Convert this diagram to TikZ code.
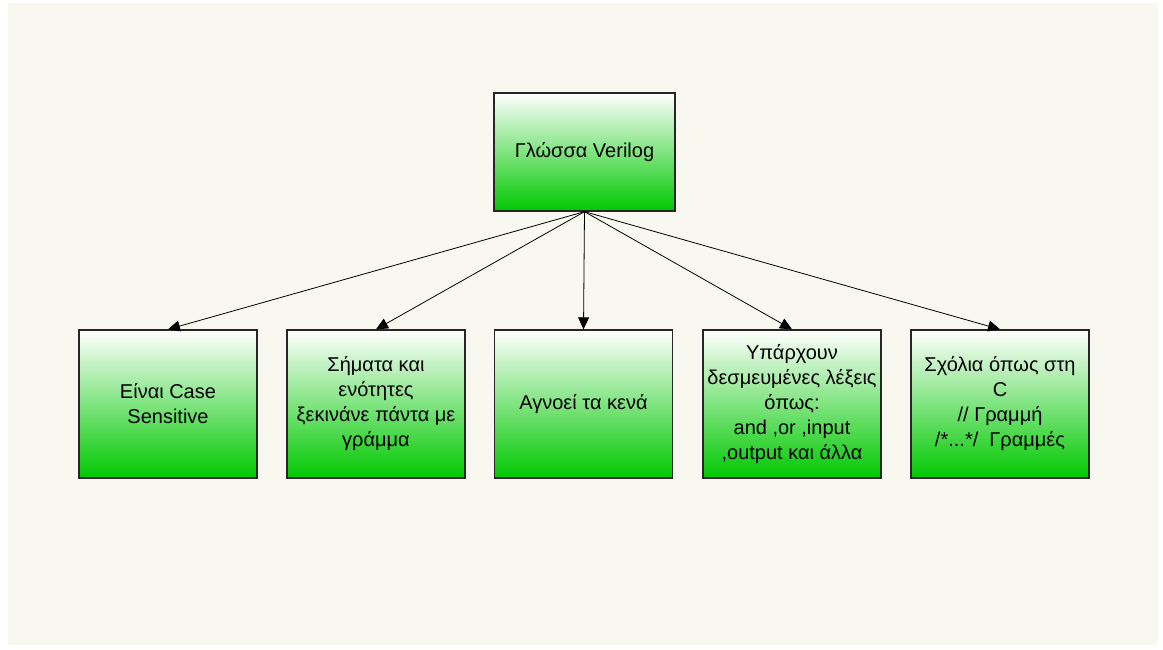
\documentclass[tikz,border=0pt]{standalone}
\usepackage{fontspec}
\setmainfont{Liberation Sans}
\usetikzlibrary{arrows.meta}
\definecolor{boxgreen}{RGB}{0,200,0}
\definecolor{paper}{RGB}{248,247,240}
\begin{document}
\begin{tikzpicture}[x=1pt,y=-1pt]
	\tikzstyle{gbox}=[draw=black!85,line width=1.3pt,top color=white,bottom color=boxgreen,align=center,inner sep=0pt,font=\fontsize{20}{25}\selectfont]
	\tikzstyle{leaf}=[gbox,minimum width=178pt,minimum height=148pt]
	\tikzstyle{myarrow}=[line width=0.8pt,-{Triangle[length=12pt,width=11pt]}]

	\fill[white] (0,0) rectangle (1163,649);
	\fill[paper] (8,3) rectangle (1158,645);

	\node[gbox,minimum width=181pt,minimum height=118pt] (root) at (584.5,152) {Γλώσσα Verilog};

	\node[leaf] (b1) at (168,404) {Είναι Case\\Sensitive};
	\node[leaf] (b2) at (376,404) {Σήματα και\\ενότητες\\ξεκινάνε πάντα με\\γράμμα};
	\node[leaf] (b3) at (583.5,404) {Αγνοεί τα κενά};
	\node[leaf] (b4) at (792,404) {Υπάρχουν\\δεσμευμένες λέξεις\\όπως:\\and ,or ,input\\,output και άλλα};
	\node[leaf] (b5) at (1000,404) {Σχόλια όπως στη\\C\\// Γραμμή\\/*...*/~~Γραμμές};

	\foreach \z in {1,...,5} { \draw[myarrow] (root.south) -- (b\z.north);}
\end{tikzpicture}
\end{document}
